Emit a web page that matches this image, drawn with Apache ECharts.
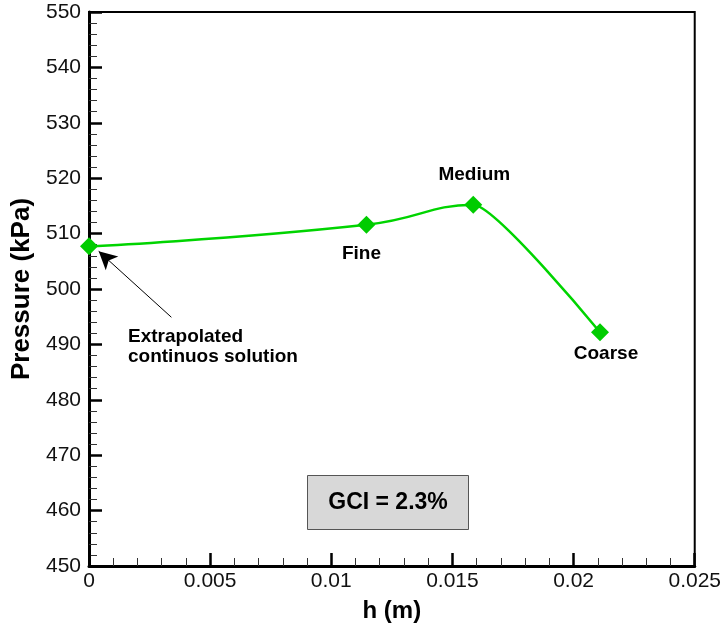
<!DOCTYPE html>
<html>
<head>
<meta charset="utf-8">
<script src="https://cdn.jsdelivr.net/npm/echarts@6/dist/echarts.min.js"></script>
<style>html,body{margin:0;padding:0;background:#fff}#c{width:724px;height:630px}</style>
</head>
<body>
<div id="c"></div>
<script>
const gridLabels = ['Extrapolated\ncontinuos solution', 'Fine', 'Medium', 'Coarse'];
const hValues = [0, 0.01145, 0.01586, 0.02109];
const pressureValues = [507.7, 511.6, 515.2, 492.2];
const arrowFrom = [0.0034, 494.9];
const arrowTo = [0.0004, 506.8];
const gciText = 'GCI = 2.3%';

const FONT = '"Liberation Sans", Arial, sans-serif';
const GREEN = '#00cc00';
const LINE = '#00d400';
const NONE = 'rgba(255,255,255,0)';
const labelPos = [
  {position: [48, 89], align: 'left', verticalAlign: 'top'},
  {position: 'bottom', offset: [-5, 5]},
  {position: 'top', offset: [1, -6]},
  {position: 'bottom', offset: [6, -2]}
];
const pts = hValues.map((h, i) => [h, pressureValues[i]]);
const markers = pts.map((p, i) => ({
  value: p,
  label: Object.assign({show: true, formatter: gridLabels[i], fontFamily: FONT, fontWeight: 'bold', fontSize: 19, color: '#000', lineHeight: 20}, labelPos[i])
}));
const hMed = hValues[2];

const chart = echarts.init(document.getElementById('c'), null, {renderer: 'canvas'});
chart.setOption({
  animation: false,
  backgroundColor: '#fff',
  grid: {left: 89, right: 28, top: 12, bottom: 64, show: true, borderColor: '#000', borderWidth: 2, containLabel: false},
  xAxis: {
    type: 'value', min: 0, max: 0.025, interval: 0.005,
    name: 'h (m)', nameLocation: 'middle', nameGap: 33,
    nameTextStyle: {fontFamily: FONT, fontWeight: 'bold', fontSize: 24, color: '#000'},
    axisLine: {show: true, onZero: false, lineStyle: {color: '#000', width: 3}},
    axisTick: {show: true, inside: true, length: 13, lineStyle: {color: '#000', width: 2.5}},
    minorTick: {show: true, splitNumber: 5, length: 8, lineStyle: {color: '#333', width: 1}},
    splitLine: {show: false},
    axisLabel: {fontFamily: FONT, fontSize: 21, color: '#111', margin: 5,
      formatter: v => String(Math.round(v * 1000) / 1000)}
  },
  yAxis: {
    type: 'value', min: 450, max: 550, interval: 10,
    name: 'Pressure (kPa)', nameLocation: 'middle', nameGap: 49,
    nameTextStyle: {fontFamily: FONT, fontWeight: 'bold', fontSize: 26, color: '#000'},
    axisLine: {show: true, onZero: false, lineStyle: {color: '#000', width: 3}},
    axisTick: {show: true, inside: true, length: 13, lineStyle: {color: '#000', width: 2.5}},
    minorTick: {show: true, splitNumber: 5, length: 8, lineStyle: {color: '#333', width: 1}},
    splitLine: {show: false},
    axisLabel: {fontFamily: FONT, fontSize: 21, color: '#111', margin: 8}
  },
  visualMap: [
    {show: false, type: 'piecewise', seriesIndex: 0, dimension: 0,
     pieces: [{min: -0.001, max: hMed, color: LINE}, {min: hMed, max: 0.026, color: NONE}]},
    {show: false, type: 'piecewise', seriesIndex: 1, dimension: 0,
     pieces: [{min: -0.001, max: hMed, color: NONE}, {min: hMed, max: 0.026, color: LINE}]}
  ],
  series: [{
    type: 'line',
    data: pts,
    smooth: 0.5,
    showSymbol: false,
    symbol: 'none',
    lineStyle: {width: 2.5},
    z: 2
  }, {
    type: 'line',
    data: pts.slice(1),
    smooth: 0.15,
    showSymbol: false,
    symbol: 'none',
    lineStyle: {width: 2.5},
    z: 2
  }, {
    type: 'scatter',
    data: markers,
    symbol: 'diamond',
    symbolSize: 18,
    itemStyle: {color: GREEN, opacity: 1},
    markLine: {
      silent: true,
      symbol: ['none', 'arrow'],
      symbolSize: [14, 18],
      label: {show: false},
      lineStyle: {color: '#000', width: 1, type: 'solid', opacity: 1},
      data: [[{coord: arrowFrom}, {coord: arrowTo}]]
    },
    z: 3
  }],
  graphic: [{
    type: 'group', left: 307, top: 475,
    children: [
      {type: 'rect', shape: {x: 0, y: 0, width: 161, height: 54}, style: {fill: '#d8d8d8', stroke: '#555', lineWidth: 1}},
      {type: 'text', x: 80.5, y: 27, style: {text: gciText, fontFamily: FONT, fontWeight: 'bold', fontSize: 23, fill: '#000', align: 'center', verticalAlign: 'middle'}}
    ]
  }]
});
</script>
</body>
</html>
